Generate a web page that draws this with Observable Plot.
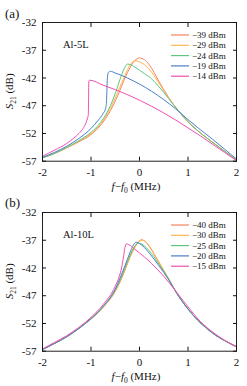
<!DOCTYPE html>
<html><head><meta charset="utf-8">
<script src="https://cdn.jsdelivr.net/npm/d3@7"></script>
<script src="https://cdn.jsdelivr.net/npm/@observablehq/plot@0.6"></script>
<style>
html,body{margin:0;padding:0;background:#fff;}
#chart{width:247px;height:386px;overflow:hidden;background:#fff;}
#chart svg{display:block;overflow:visible;}
</style></head><body><div id="chart"></div>
<script>
const xTicks = [-2, -1, 0, 1, 2];
const yTicks = [-57, -52, -47, -42, -37, -32];
const labelsA = ["−39 dBm", "−29 dBm", "−24 dBm", "−19 dBm", "−14 dBm"];
const labelsB = ["−40 dBm", "−30 dBm", "−25 dBm", "−20 dBm", "−15 dBm"];
const nameA = "Al-5L";
const nameB = "Al-10L";

// Panel (a): [f - f0 (MHz), S21 (dB)]
const a39 = [[-2,-56.4],[-1.75,-55.6],[-1.5,-54.6],[-1.25,-53.5],[-1,-52.2],[-0.8,-50.5],[-0.6,-47.9],[-0.45,-45.2],[-0.3,-42.0],[-0.2,-40.2],[-0.1,-38.9],[0,-38.4],[0.1,-38.7],[0.2,-39.6],[0.3,-41.0],[0.4,-42.6],[0.5,-44.1],[0.6,-45.5],[0.8,-47.9],[1,-49.9],[1.2,-51.5],[1.4,-52.9],[1.6,-54.2],[1.8,-55.5],[2,-56.8]];
const a29 = [[-2,-56.4],[-1.75,-55.6],[-1.5,-54.6],[-1.25,-53.4],[-1,-52.0],[-0.8,-50.3],[-0.6,-47.5],[-0.45,-44.6],[-0.3,-41.5],[-0.2,-39.7],[-0.1,-38.9],[0,-39.1],[0.1,-39.6],[0.2,-40.4],[0.3,-41.6],[0.4,-42.9],[0.5,-44.3],[0.6,-45.6],[0.8,-47.9],[1,-49.9],[1.2,-51.5],[1.4,-52.9],[1.6,-54.2],[1.8,-55.5],[2,-56.8]];
const a24 = [[-2,-56.4],[-1.75,-55.6],[-1.5,-54.5],[-1.25,-53.3],[-1,-51.8],[-0.8,-50.0],[-0.6,-47.0],[-0.5,-44.8],[-0.4,-42.2],[-0.32,-40.4],[-0.25,-39.5],[-0.18,-39.6],[-0.1,-40.0],[0,-40.6],[0.1,-41.2],[0.2,-41.8],[0.3,-42.6],[0.4,-43.6],[0.5,-44.6],[0.6,-45.7],[0.8,-47.9],[1,-49.9],[1.2,-51.5],[1.4,-52.9],[1.6,-54.2],[1.8,-55.5],[2,-56.8]];
const a19 = [[-2,-56.3],[-1.75,-55.4],[-1.5,-54.3],[-1.25,-52.9],[-1,-51.1],[-0.85,-49.6],[-0.75,-48.4],[-0.7,-47.5],[-0.68,-46.3],[-0.67,-43.5],[-0.66,-41.8],[-0.64,-41.0],[-0.6,-40.8],[-0.5,-41.1],[-0.25,-42.0],[0,-43.1],[0.25,-44.4],[0.5,-45.9],[0.75,-47.6],[1,-49.5],[1.25,-51.3],[1.5,-53.0],[1.75,-54.8],[2,-56.6]];
const a14 = [[-2,-56.1],[-1.75,-55.0],[-1.5,-53.8],[-1.35,-52.8],[-1.25,-52.0],[-1.15,-50.9],[-1.1,-50.0],[-1.07,-49.2],[-1.055,-48.6],[-1.05,-45.5],[-1.045,-42.6],[-1.03,-42.4],[-0.75,-43.3],[-0.5,-44.1],[-0.25,-45.0],[0,-46.0],[0.25,-47.1],[0.5,-48.3],[0.75,-49.6],[1,-51.0],[1.25,-52.4],[1.5,-53.9],[1.75,-55.4],[2,-56.9]];

// Panel (b)
const b40 = [[-2,-56.7],[-1.75,-55.6],[-1.5,-54.4],[-1.25,-52.9],[-1,-51.2],[-0.75,-49.1],[-0.5,-46.2],[-0.4,-44.5],[-0.3,-42.4],[-0.2,-40.1],[-0.1,-38.2],[0,-37.1],[0.04,-36.9],[0.1,-37.1],[0.2,-38.1],[0.3,-39.5],[0.4,-41.0],[0.5,-42.5],[0.6,-44.0],[0.8,-47.0],[1,-49.4],[1.2,-51.4],[1.4,-53.0],[1.6,-54.3],[1.8,-55.3],[2,-56.2]];
const b30 = [[-2,-56.7],[-1.75,-55.6],[-1.5,-54.4],[-1.25,-52.9],[-1,-51.2],[-0.75,-49.1],[-0.5,-46.2],[-0.4,-44.4],[-0.3,-42.3],[-0.2,-40.2],[-0.1,-38.4],[0,-37.2],[0.05,-37.0],[0.1,-37.1],[0.2,-38.0],[0.3,-39.4],[0.4,-40.9],[0.5,-42.4],[0.6,-43.9],[0.8,-47.0],[1,-49.4],[1.2,-51.4],[1.4,-53.0],[1.6,-54.3],[1.8,-55.3],[2,-56.2]];
const b25 = [[-2,-56.7],[-1.75,-55.6],[-1.5,-54.4],[-1.25,-52.9],[-1,-51.2],[-0.75,-49.0],[-0.5,-46.0],[-0.4,-44.2],[-0.3,-42.0],[-0.2,-39.8],[-0.1,-38.1],[-0.02,-37.5],[0.05,-37.7],[0.1,-38.0],[0.2,-38.9],[0.3,-40.0],[0.4,-41.3],[0.5,-42.6],[0.6,-44.0],[0.8,-47.0],[1,-49.4],[1.2,-51.4],[1.4,-53.0],[1.6,-54.3],[1.8,-55.3],[2,-56.2]];
const b20 = [[-2,-56.7],[-1.75,-55.6],[-1.5,-54.4],[-1.25,-52.9],[-1,-51.1],[-0.75,-48.9],[-0.5,-45.8],[-0.4,-43.8],[-0.3,-41.6],[-0.2,-39.3],[-0.12,-37.8],[-0.07,-37.35],[0,-37.6],[0.1,-38.3],[0.2,-39.3],[0.3,-40.4],[0.4,-41.6],[0.5,-42.8],[0.6,-44.1],[0.8,-47.0],[1,-49.4],[1.2,-51.4],[1.4,-53.0],[1.6,-54.3],[1.8,-55.3],[2,-56.2]];
const b15 = [[-2,-56.6],[-1.75,-55.4],[-1.5,-54.2],[-1.25,-52.7],[-1,-50.9],[-0.75,-48.6],[-0.5,-45.3],[-0.42,-43.6],[-0.37,-42.0],[-0.33,-40.0],[-0.3,-38.3],[-0.27,-37.65],[-0.22,-37.8],[-0.1,-38.6],[0,-39.3],[0.1,-40.0],[0.25,-41.2],[0.5,-43.5],[0.75,-46.2],[1,-49.0],[1.25,-51.6],[1.5,-53.5],[1.75,-55.0],[2,-56.2]];

const colors = ["#f5845f", "#fdb64e", "#5cc77e", "#4b7fc7", "#f04fb0"];
const FONT = "Liberation Serif, 'DejaVu Serif', serif";

function panel({series, labels, name, tag, height, marginTop, marginBottom, tagY, xlabY}) {
  const ml = 42, mr = 11;
  const svg = Plot.plot({
    width: 247, height, marginLeft: ml, marginRight: mr, marginTop, marginBottom,
    x: {domain: [-2, 2]},
    y: {domain: [-57, -32]},
    style: {fontFamily: FONT, fontSize: "11px", color: "#111", background: "white", overflow: "visible"},
    marks: [
      ...series.map((s, i) => Plot.line(s, {x: d => d[0], y: d => d[1], stroke: colors[i], strokeWidth: 1, curve: "monotone-x"})),
      Plot.frame({stroke: "#222", strokeWidth: 1}),
      Plot.axisX({ticks: xTicks, tickSize: 0, tickPadding: 7, tickFormat: d => String(d), label: null}),
      Plot.axisX({ticks: xTicks, tickSize: -4, tickFormat: () => "", label: null}),
      Plot.axisX({ticks: xTicks, anchor: "top", tickSize: -4, tickFormat: () => "", label: null}),
      Plot.axisY({ticks: yTicks, tickSize: 0, tickPadding: 6, tickFormat: d => String(d), label: null}),
      Plot.axisY({ticks: yTicks, tickSize: -4, tickFormat: () => "", label: null}),
      Plot.axisY({ticks: yTicks, anchor: "right", tickSize: -4, tickFormat: () => "", label: null})
    ]
  });
  const g = d3.select(svg).append("g").attr("font-family", FONT).attr("fill", "#111").attr("text-anchor", "start");
  const fb = height - marginBottom;
  // panel tag
  g.append("text").attr("x", 5).attr("y", tagY).attr("font-size", 13).text(tag);
  // sample name
  g.append("text").attr("x", 63).attr("y", marginTop + 26).attr("font-size", 10.5).text(name);
  // legend
  labels.forEach((lab, i) => {
    const y = marginTop + 13 + i * 10.3;
    g.append("line").attr("x1", 171).attr("x2", 189).attr("y1", y).attr("y2", y)
      .attr("stroke", colors[i]).attr("stroke-width", 1.2);
    g.append("text").attr("x", 192).attr("y", y).attr("dy", "0.35em").attr("font-size", 9).text(lab);
  });
  // y label
  const yl = g.append("text").attr("transform", `translate(13,${(marginTop + fb) / 2}) rotate(-90)`)
    .attr("text-anchor", "middle").attr("font-size", 11);
  yl.append("tspan").attr("font-style", "italic").text("S");
  yl.append("tspan").attr("font-size", 7.5).attr("dy", 2.5).text("21");
  yl.append("tspan").attr("dy", -2.5).text(" (dB)");
  // x label
  const xl = g.append("text").attr("x", 136).attr("y", xlabY).attr("text-anchor", "middle").attr("font-size", 11);
  xl.append("tspan").attr("font-style", "italic").text("f");
  xl.append("tspan").text("−");
  xl.append("tspan").attr("font-style", "italic").text("f");
  xl.append("tspan").attr("font-size", 7.5).attr("dy", 2.5).text("0");
  xl.append("tspan").attr("dy", -2.5).text(" (MHz)");
  return svg;
}

const root = document.getElementById("chart");
root.appendChild(panel({series: [a39, a29, a24, a19, a14], labels: labelsA, name: nameA, tag: "(a)",
  height: 196, marginTop: 22, marginBottom: 35.3, tagY: 18, xlabY: 190}));
root.appendChild(panel({series: [b40, b30, b25, b20, b15], labels: labelsB, name: nameB, tag: "(b)",
  height: 190, marginTop: 16, marginBottom: 35.3, tagY: 11, xlabY: 184}));
</script></body></html>
